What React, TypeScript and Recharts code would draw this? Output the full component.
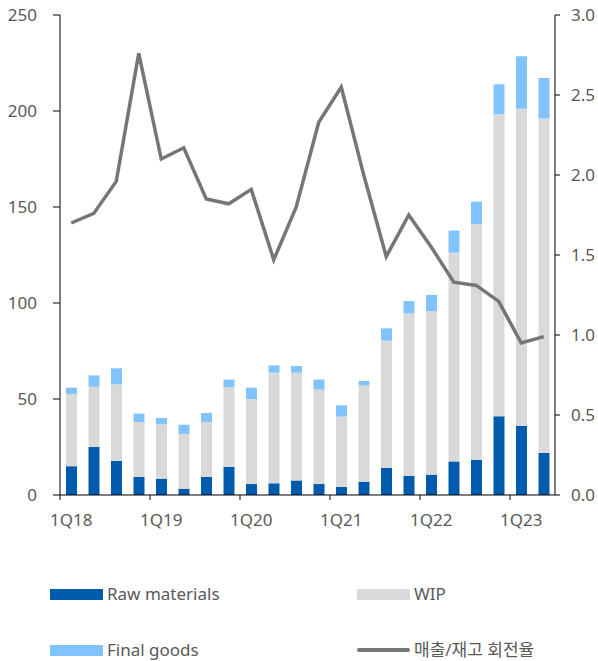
import React from 'react';
import {
  ComposedChart, Bar, Line, XAxis, YAxis
} from 'recharts';

// quarterly inventory breakdown (left axis) and sales/inventory turnover (right axis)
const quarters = [
  '1Q18', '2Q18', '3Q18', '4Q18',
  '1Q19', '2Q19', '3Q19', '4Q19',
  '1Q20', '2Q20', '3Q20', '4Q20',
  '1Q21', '2Q21', '3Q21', '4Q21',
  '1Q22', '2Q22', '3Q22', '4Q22',
  '1Q23', '2Q23'
];
const rawMaterials = [
  15, 25, 17.7, 9.4, 8.5, 3.3, 9.4, 14.7, 5.7, 6.1, 7.6,
  5.7, 4.2, 6.9, 14.1, 9.9, 10.6, 17.5, 18.4, 41, 36.1, 21.9
];
const wip = [
  37.6, 31.4, 39.9, 28.6, 28.3, 28.5, 28.6, 41.5, 44.3, 57.6, 56.1,
  49.2, 36.6, 50.2, 66.3, 84.7, 85.2, 108.7, 122.6, 157.3, 165.1, 174.3
];
const finalGoods = [
  3.3, 5.9, 8.4, 4.4, 3.3, 4.8, 4.7, 3.9, 5.9, 3.8, 3.5,
  5.2, 5.9, 2.3, 6.4, 6.4, 8.4, 11.5, 11.8, 15.6, 27.3, 21
];
const turnover = [
  1.70, 1.76, 1.96, 2.76, 2.10, 2.17, 1.85, 1.82, 1.91, 1.47, 1.80,
  2.33, 2.55, 2.00, 1.49, 1.75, 1.55, 1.33, 1.31, 1.21, 0.95, 0.99
];
const leftTicks = [0, 50, 100, 150, 200, 250];
const rightTicks = [0, 0.5, 1.0, 1.5, 2.0, 2.5, 3.0];

const data = quarters.map((q, i) => ({
  q,
  raw: rawMaterials[i],
  wip: wip[i],
  fin: finalGoods[i],
  turn: turnover[i]
}));

const COLORS = {
  raw: '#005BAC',
  wip: '#D9D9D9',
  fin: '#80C3FF',
  line: '#767676',
  text: '#595959'
};

const W = 598;
const H = 661;
const LEFT_W = 60;
const RIGHT_W = 43;
const BAND = (W - LEFT_W - RIGHT_W) / quarters.length;
const FONT = '"Noto Sans", "Noto Sans CJK KR", sans-serif';

// year labels under the first quarter, tick mark on the band boundary before it
const QuarterTick = (props: any) => {
  const { x, y, payload } = props;
  if (payload.index % 4 !== 0) return null;
  const bx = x - BAND / 2;
  return (
    <g>
      <line x1={bx} x2={bx} y1={y} y2={y + 5} stroke="#000" strokeWidth={1} />
      <text x={x} y={y + 31} textAnchor="middle" fill={COLORS.text} fontSize={17}>
        {payload.value}
      </text>
    </g>
  );
};

const legendItems = [
  { label: 'Raw materials', color: COLORS.raw, kind: 'bar', left: 50, top: 584 },
  { label: 'WIP', color: COLORS.wip, kind: 'bar', left: 357, top: 584 },
  { label: 'Final goods', color: COLORS.fin, kind: 'bar', left: 50, top: 640 },
  { label: '매출/재고 회전율', color: COLORS.line, kind: 'line', left: 357, top: 640 }
];

export default function App() {
  return (
    <div style={{ position: 'absolute', left: 0, top: 0, width: W, height: H, fontFamily: FONT, background: '#fff' }}>
      <ComposedChart
        width={W}
        height={H}
        data={data}
        margin={{ top: 15, right: 0, bottom: 0, left: 0 }}
        barSize={11}
      >
        <XAxis
          dataKey="q"
          height={166}
          interval={0}
          tickLine={false}
          tickSize={0}
          tickMargin={0}
          axisLine={{ stroke: '#000' }}
          tick={<QuarterTick />}
        />
        <YAxis
          yAxisId="left"
          width={LEFT_W}
          domain={[0, 250]}
          ticks={leftTicks}
          tickSize={7}
          tickMargin={16}
          axisLine={{ stroke: '#000' }}
          tickLine={{ stroke: '#000' }}
          tick={{ fill: COLORS.text, fontSize: 17 }}
        />
        <YAxis
          yAxisId="right"
          orientation="right"
          width={RIGHT_W}
          domain={[0, 3]}
          ticks={rightTicks}
          tickSize={5}
          tickMargin={11}
          axisLine={{ stroke: '#000' }}
          tickLine={{ stroke: '#000' }}
          tick={{ fill: COLORS.text, fontSize: 17 }}
          tickFormatter={(v: number) => v.toFixed(1)}
        />
        <Bar yAxisId="left" dataKey="raw" stackId="inv" fill={COLORS.raw} isAnimationActive={false} />
        <Bar yAxisId="left" dataKey="wip" stackId="inv" fill={COLORS.wip} isAnimationActive={false} />
        <Bar yAxisId="left" dataKey="fin" stackId="inv" fill={COLORS.fin} isAnimationActive={false} />
        <Line
          yAxisId="right"
          dataKey="turn"
          type="linear"
          stroke={COLORS.line}
          strokeWidth={3.5}
          dot={false}
          isAnimationActive={false}
        />
      </ComposedChart>

      {legendItems.map((item) => (
        <div
          key={item.label}
          style={{
            position: 'absolute',
            left: item.left,
            top: item.top,
            display: 'flex',
            alignItems: 'center',
            height: 20,
            color: COLORS.text,
            fontSize: 17,
            lineHeight: '20px'
          }}
        >
          {item.kind === 'bar' ? (
            <span style={{ display: 'inline-block', width: 53, height: 11, background: item.color }} />
          ) : (
            <span style={{ display: 'inline-block', width: 53, height: 4, borderRadius: 2, background: item.color }} />
          )}
          <span style={{ marginLeft: 4, whiteSpace: 'nowrap' }}>{item.label}</span>
        </div>
      ))}
    </div>
  );
}
